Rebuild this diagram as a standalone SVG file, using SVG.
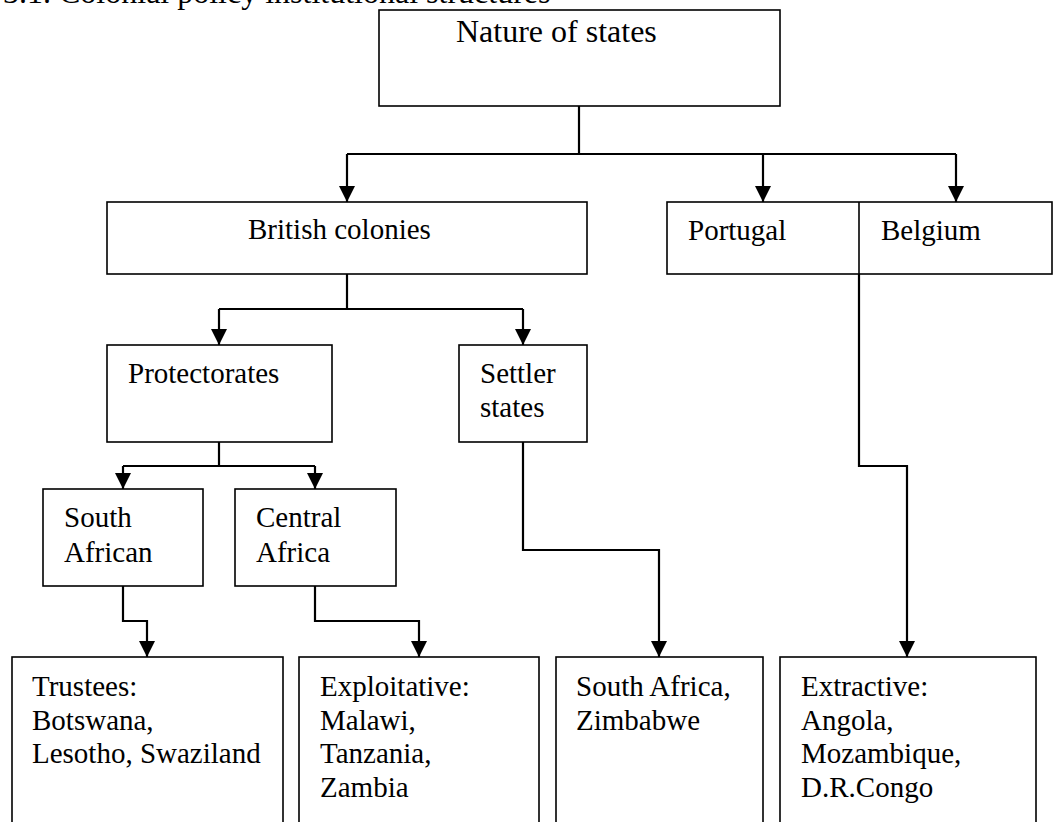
<svg xmlns="http://www.w3.org/2000/svg" width="1053" height="822" viewBox="0 0 1053 822">
  <defs>
    <style>
      .box { fill: #ffffff; stroke: #000000; stroke-width: 1.6; }
      .wire { fill: none; stroke: #000000; stroke-width: 2.2; stroke-linejoin: miter; }
      .arrow { marker-end: url(#head); }
      text { font-family: "Liberation Serif", "Times New Roman", serif; fill: #000000; }
      .lbl { font-size: 29px; }
      .big { font-size: 32px; }
    </style>
    <marker id="head" markerUnits="userSpaceOnUse" markerWidth="16" markerHeight="16" viewBox="0 0 15 15" refX="15" refY="7.5" orient="auto">
      <path d="M0,0 L15,7.5 L0,15 Z" fill="#000000"/>
    </marker>
  </defs>

  <rect width="1053" height="822" fill="#ffffff"/>

  <!-- heading -->
  <text class="big" x="3" y="3">3.1. Colonial policy institutional structures</text>

  <!-- connectors -->
  <g id="connectors">
    <path class="wire" d="M579,106 V154"/>
    <path class="wire" d="M347,154 H956"/>
    <path class="wire arrow" d="M347,154 V202"/>
    <path class="wire arrow" d="M763,154 V202"/>
    <path class="wire arrow" d="M956,154 V202"/>

    <path class="wire" d="M347,274 V309"/>
    <path class="wire" d="M219,309 H523"/>
    <path class="wire arrow" d="M219,309 V345"/>
    <path class="wire arrow" d="M523,309 V345"/>

    <path class="wire" d="M219,442 V466"/>
    <path class="wire" d="M123,466 H315"/>
    <path class="wire arrow" d="M123,466 V489"/>
    <path class="wire arrow" d="M315,466 V489"/>

    <path class="wire arrow" d="M123,586 V621 H147 V657"/>
    <path class="wire arrow" d="M315,586 V621 H419 V657"/>
    <path class="wire arrow" d="M523,442 V550 H659 V657"/>
    <path class="wire arrow" d="M859,274 V466 H907 V657"/>
  </g>

  <!-- nodes -->
  <g id="nature-of-states">
    <rect class="box" x="379" y="10" width="401" height="96"/>
    <text class="big" x="456" y="42">Nature of states</text>
  </g>

  <g id="british-colonies">
    <rect class="box" x="107" y="202" width="480" height="72"/>
    <text class="lbl" x="248" y="239">British colonies</text>
  </g>

  <g id="portugal-belgium">
    <rect class="box" x="667" y="202" width="385" height="72"/>
    <line x1="859" y1="202" x2="859" y2="274" stroke="#000000" stroke-width="1.6"/>
    <text class="lbl" x="688" y="240">Portugal</text>
    <text class="lbl" x="881" y="240">Belgium</text>
  </g>

  <g id="protectorates">
    <rect class="box" x="107" y="345" width="225" height="97"/>
    <text class="lbl" x="128" y="383">Protectorates</text>
  </g>

  <g id="settler-states">
    <rect class="box" x="459" y="345" width="128" height="97"/>
    <text class="lbl" x="480" y="383">Settler</text>
    <text class="lbl" x="480" y="417">states</text>
  </g>

  <g id="south-african">
    <rect class="box" x="43" y="489" width="160" height="97"/>
    <text class="lbl" x="64" y="527">South</text>
    <text class="lbl" x="64" y="562">African</text>
  </g>

  <g id="central-africa">
    <rect class="box" x="235" y="489" width="161" height="97"/>
    <text class="lbl" x="256" y="527">Central</text>
    <text class="lbl" x="256" y="562">Africa</text>
  </g>

  <g id="trustees">
    <rect class="box" x="12" y="657" width="271" height="180"/>
    <text class="lbl" x="32" y="696">Trustees:</text>
    <text class="lbl" x="32" y="730">Botswana,</text>
    <text class="lbl" x="32" y="763">Lesotho, Swaziland</text>
  </g>

  <g id="exploitative">
    <rect class="box" x="299" y="657" width="240" height="180"/>
    <text class="lbl" x="320" y="696">Exploitative:</text>
    <text class="lbl" x="320" y="730">Malawi,</text>
    <text class="lbl" x="320" y="763">Tanzania,</text>
    <text class="lbl" x="320" y="797">Zambia</text>
  </g>

  <g id="settler-outcome">
    <rect class="box" x="556" y="657" width="207" height="180"/>
    <text class="lbl" x="576" y="696">South Africa,</text>
    <text class="lbl" x="576" y="730">Zimbabwe</text>
  </g>

  <g id="extractive">
    <rect class="box" x="780" y="657" width="256" height="180"/>
    <text class="lbl" x="801" y="696">Extractive:</text>
    <text class="lbl" x="801" y="730">Angola,</text>
    <text class="lbl" x="801" y="763">Mozambique,</text>
    <text class="lbl" x="801" y="797">D.R.Congo</text>
  </g>
</svg>
